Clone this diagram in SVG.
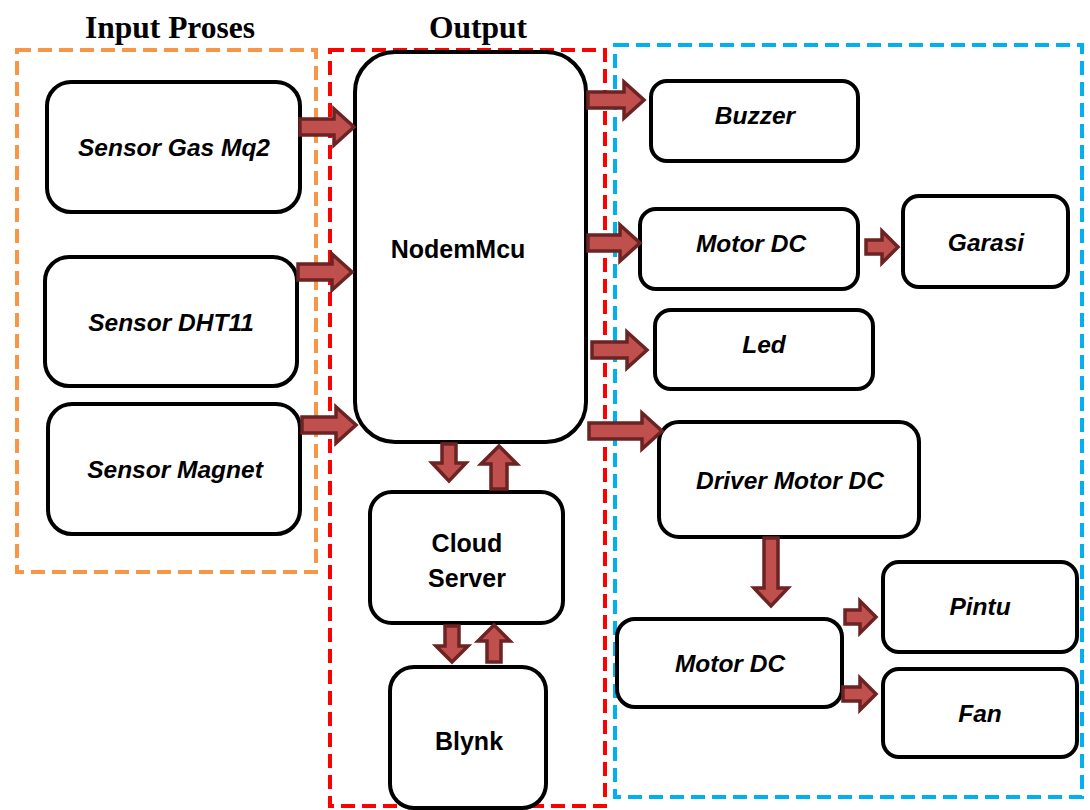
<svg xmlns="http://www.w3.org/2000/svg" width="1090" height="810" viewBox="0 0 1090 810">
<style>
.node{fill:#fff;stroke:#000;stroke-width:4}
.lbl{font-family:"Liberation Sans",Arial,sans-serif;font-weight:bold;font-style:italic;font-size:24.5px;text-anchor:middle;dominant-baseline:central;fill:#000}
.lbn{font-family:"Liberation Sans",Arial,sans-serif;font-weight:bold;font-size:25px;text-anchor:middle;dominant-baseline:central;fill:#000}
.title{font-family:"Liberation Serif","Times New Roman",serif;font-weight:bold;font-size:31.5px;text-anchor:middle;fill:#000}
.grp{fill:none;stroke-width:4;stroke-dasharray:14 7}
.arr{fill:#c0504d;stroke:#6b2323;stroke-width:3.5;stroke-linejoin:miter}
</style>
<rect width="1090" height="810" fill="#fff"/>
<g id="groups">
<rect class="grp" x="17" y="50" width="299" height="522" stroke="#f79646"/>
<rect class="grp" x="330" y="50" width="275" height="756" stroke="#ff0000"/>
<rect class="grp" x="615" y="45" width="467" height="752" stroke="#00b0f0"/>
</g>
<text class="title" x="170" y="38">Input Proses</text>
<text class="title" x="478" y="38">Output</text>
<g id="gas"><rect class="node" x="47" y="82" width="253" height="130" rx="24"/><text class="lbl" x="174" y="147">Sensor Gas Mq2</text></g>
<g id="dht"><rect class="node" x="45" y="257" width="252" height="129" rx="24"/><text class="lbl" x="171" y="322">Sensor DHT11</text></g>
<g id="magnet"><rect class="node" x="48" y="404" width="252" height="130" rx="24"/><text class="lbl" x="175" y="469">Sensor Magnet</text></g>
<g id="nodemcu"><rect class="node" x="355" y="52" width="231" height="390" rx="40"/><text class="lbn" x="458" y="249">NodemMcu</text></g>
<g id="cloud"><rect class="node" x="370" y="492" width="193" height="131" rx="22"/><text class="lbn" x="467" y="543">Cloud</text><text class="lbn" x="467" y="578">Server</text></g>
<g id="blynk"><rect class="node" x="390" y="667" width="156" height="141" rx="24"/><text class="lbn" x="469" y="741">Blynk</text></g>
<g id="buzzer"><rect class="node" x="651" y="81" width="207" height="80" rx="16"/><text class="lbl" x="755" y="115">Buzzer</text></g>
<g id="motordc1"><rect class="node" x="640" y="209" width="218" height="80" rx="16"/><text class="lbl" x="751" y="243">Motor DC</text></g>
<g id="garasi"><rect class="node" x="903" y="196" width="165" height="91" rx="16"/><text class="lbl" x="986" y="242">Garasi</text></g>
<g id="led"><rect class="node" x="655" y="310" width="218" height="79" rx="16"/><text class="lbl" x="764" y="344">Led</text></g>
<g id="driver"><rect class="node" x="659" y="422" width="260" height="115" rx="20"/><text class="lbl" x="790" y="480">Driver Motor DC</text></g>
<g id="motordc2"><rect class="node" x="617" y="619" width="225" height="88" rx="18"/><text class="lbl" x="730" y="663">Motor DC</text></g>
<g id="pintu"><rect class="node" x="883" y="562" width="194" height="90" rx="16"/><text class="lbl" x="980" y="606">Pintu</text></g>
<g id="fan"><rect class="node" x="883" y="669" width="194" height="88" rx="16"/><text class="lbl" x="980" y="713">Fan</text></g>
<g id="connectors">
<path class="arr" d="M300 119 H334 V109 L354 127 L334 145 V135 H300Z"/>
<path class="arr" d="M298 264 H332 V254 L352 272 L332 290 V280 H298Z"/>
<path class="arr" d="M302 417 H336 V407 L356 425 L336 443 V433 H302Z"/>
<path class="arr" d="M588 92 H624 V82 L644 100 L624 118 V108 H588Z"/>
<path class="arr" d="M588 235 H620 V225 L640 243 L620 261 V251 H588Z"/>
<path class="arr" d="M592 342 H627 V332 L647 350 L627 368 V358 H592Z"/>
<path class="arr" d="M589 423 H642 V413 L662 431 L642 449 V439 H589Z"/>
<path class="arr" d="M866 240 H882 V231 L898 247 L882 263 V254 H866Z"/>
<path class="arr" d="M845 610 H860 V601 L876 617 L860 633 V624 H845Z"/>
<path class="arr" d="M843 687 H860 V678 L876 694 L860 710 V701 H843Z"/>
<path class="arr" d="M764 538 V588 H754 L771 606 L788 588 H778 V538Z"/>
<path class="arr" d="M442 444 V463 H432 L449 481 L466 463 H456 V444Z"/>
<path class="arr" d="M491 489 V464 H481 L499 446 L517 464 H507 V489Z"/>
<path class="arr" d="M445 626 V646 H436 L452 662 L468 646 H459 V626Z"/>
<path class="arr" d="M487 662 V641 H478 L494 625 L510 641 H501 V662Z"/>
</g>
</svg>
